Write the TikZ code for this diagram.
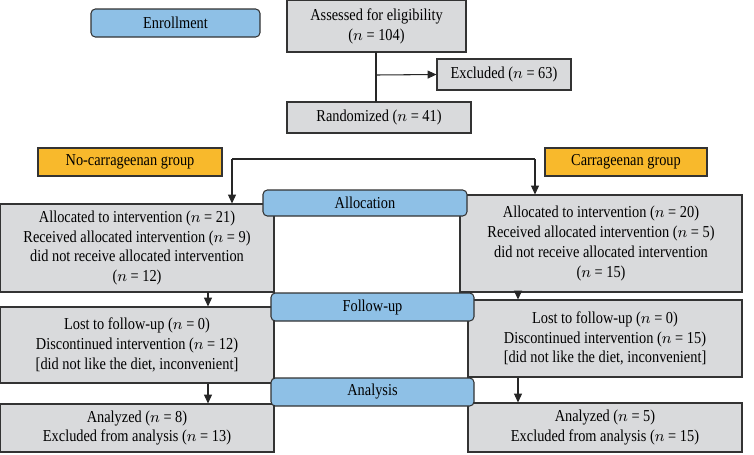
\documentclass[tikz,border=0pt]{standalone}
\usepackage{fontspec}
\setmainfont{Liberation Serif}[FakeStretch=0.86]
\usetikzlibrary{arrows.meta}
\definecolor{boxgray}{HTML}{D9DADC}
\definecolor{stageblue}{HTML}{8EC0E6}
\definecolor{groupgold}{HTML}{F8B92C}
\tikzset{
  box/.style={draw=black!80, line width=0.6pt, fill=boxgray, align=center, inner sep=0pt,
    font=\fontsize{9.5}{11.3}\selectfont},
  stage/.style={box, fill=stageblue, rounded corners=2.5pt},
  group/.style={box, fill=groupgold},
  arr/.style={draw=black!85, line width=0.6pt, -{Triangle[length=5pt,width=4.5pt]}}
}
\newcommand{\nn}{$n$}
\begin{document}
\begin{tikzpicture}[x=0.02cm, y=-0.02cm]
    \useasboundingbox (0,0) rectangle (754,454);
    % Enrollment
    \node[stage, minimum width=169*0.02cm, minimum height=28*0.02cm] (enrol) at (175.5,23) {Enrollment};
    \node[box, minimum width=179*0.02cm, minimum height=52*0.02cm] (assess) at (376.5,26) {Assessed for eligibility\\(\nn{} = 104)};
    \node[box, minimum width=134*0.02cm, minimum height=31*0.02cm] (excl) at (504,74.5) {Excluded (\nn{} = 63)};
    \node[box, minimum width=184*0.02cm, minimum height=31*0.02cm] (rand) at (379,117.5) {Randomized (\nn{} = 41)};
    \draw[draw=black!85, line width=0.6pt] (376,52) -- (376,102);
    \coordinate (split) at (376,75);
    \draw[arr] (split) -- (excl.west);
    % Groups
    \node[group, minimum width=184*0.02cm, minimum height=28*0.02cm] (nocarr) at (130,162) {No-carrageenan group};
    \node[group, minimum width=162*0.02cm, minimum height=28*0.02cm] (carr) at (626,162) {Carrageenan group};
    \coordinate (hl) at (232,159);
    \coordinate (hr) at (535,159);
    % Allocation
    \node[box, minimum width=274*0.02cm, minimum height=88*0.02cm] (allocl) at (137,248) {Allocated to intervention (\nn{} = 21)\\Received allocated intervention (\nn{} = 9)\\did not receive allocated intervention\\(\nn{} = 12)};
    \node[box, minimum width=282*0.02cm, minimum height=97*0.02cm] (allocr) at (601,243.5) {Allocated to intervention (\nn{} = 20)\\Received allocated intervention (\nn{} = 5)\\did not receive allocated intervention\\(\nn{} = 15)};
    \node[stage, minimum width=204*0.02cm, minimum height=26*0.02cm] (alloc) at (365,203) {Allocation};
    \draw[draw=black!85, line width=0.6pt] (hl) -- (hr);
    \draw[arr] (hl) -- (hl |- allocl.north);
    \draw[arr] (hr) -- (hr |- allocr.north);
    % Follow-up
    \node[box, minimum width=274*0.02cm, minimum height=76*0.02cm] (followl) at (137,345) {Lost to follow-up (\nn{} = 0)\\Discontinued intervention (\nn{} = 12)\\{[}did not like the diet, inconvenient{]}};
    \node[box, minimum width=274*0.02cm, minimum height=77*0.02cm] (followr) at (605,338.5) {Lost to follow-up (\nn{} = 0)\\Discontinued intervention (\nn{} = 15)\\{[}did not like the diet, inconvenient{]}};
    \node[stage, minimum width=203*0.02cm, minimum height=28*0.02cm] (follow) at (372.5,307) {Follow-up};
    \draw[arr] (208,292) -- (followl.north -| 208,0);
    \draw[arr] (518,292) -- (followr.north -| 518,0);
    % Analysis
    \node[box, minimum width=274*0.02cm, minimum height=48*0.02cm] (anal) at (137,428) {Analyzed (\nn{} = 8)\\Excluded from analysis (\nn{} = 13)};
    \node[box, minimum width=274*0.02cm, minimum height=49*0.02cm] (anar) at (605,427.5) {Analyzed (\nn{} = 5)\\Excluded from analysis (\nn{} = 15)};
    \node[stage, minimum width=203*0.02cm, minimum height=28*0.02cm] (analysis) at (372.5,392) {Analysis};
    \draw[arr] (followl.south -| 208,0) -- (anal.north -| 208,0);
    \draw[arr] (followr.south -| 518,0) -- (anar.north -| 518,0);
\end{tikzpicture}
\end{document}
